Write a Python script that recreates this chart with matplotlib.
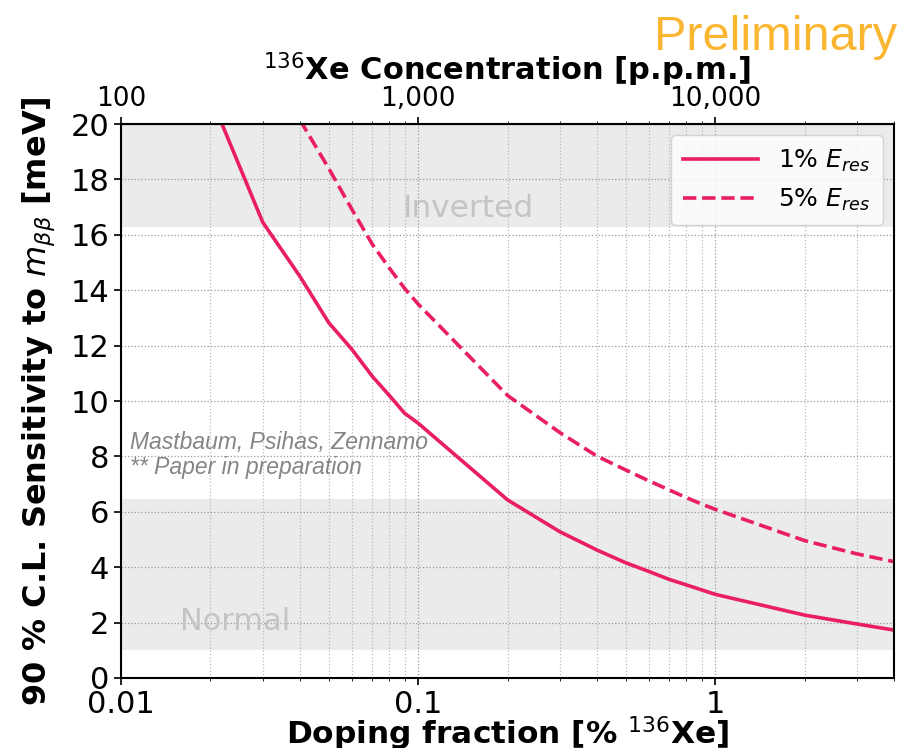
import numpy as np
import matplotlib
matplotlib.use("Agg")
import matplotlib.pyplot as plt
from matplotlib.ticker import FuncFormatter

# doping fraction in % of 136Xe
doping = [0.02, 0.03, 0.04, 0.05, 0.06, 0.07, 0.08, 0.09, 0.1,
          0.2, 0.3, 0.4, 0.5, 0.6, 0.7, 0.8, 0.9, 1, 2, 3, 4]
# 90% C.L. sensitivity to m_bb [meV]
sens_1pct = [21.0, 16.45, 14.5, 12.83, 11.85, 10.9, 10.2, 9.56, 9.2,
             6.43, 5.28, 4.62, 4.16, 3.84, 3.56, 3.36, 3.18, 3.02, 2.27, 1.95, 1.73]
doping_5 = [0.04, 0.05, 0.06, 0.07, 0.08, 0.09, 0.1,
            0.2, 0.3, 0.4, 0.5, 0.6, 0.7, 0.8, 0.9, 1, 2, 3, 4]
sens_5pct = [20.15, 18.4, 16.9, 15.67, 14.8, 14.07, 13.5,
             10.2, 8.86, 8.01, 7.51, 7.11, 6.79, 6.51, 6.28, 6.09, 4.96, 4.48, 4.2]
ppm_ticks = [100, 1000, 10000]

inverted_band = (16.3, 50)
normal_band = (1.0, 6.45)

pink = "#e91e63"

fig = plt.figure(figsize=(9.06, 7.48), dpi=100)
ax = fig.add_axes([0.1336, 0.0936, 0.8532, 0.7406])

ax.axhspan(*inverted_band, color="#ebebeb", zorder=0, lw=0)
ax.axhspan(*normal_band, color="#ebebeb", zorder=0, lw=0)

ax.plot(doping, sens_1pct, color=pink, lw=2.6, label=r"1% $E_{res}$")
ax.plot(doping_5, sens_5pct, color=pink, lw=2.6, ls="--", label=r"5% $E_{res}$")

ax.set_xscale("log")
ax.set_xlim(0.01, 4)
ax.set_ylim(0, 20)
ax.set_yticks(range(0, 21, 2))
ax.xaxis.set_major_formatter(FuncFormatter(lambda v, p: f"{v:g}"))
ax.grid(True, which="major", ls=":", color="#999999", lw=0.9)
ax.grid(True, which="minor", axis="x", ls=":", color="#bbbbbb", lw=0.9)
ax.set_axisbelow(True)
ax.tick_params(labelsize=22, width=1.2, length=5)
for s in ax.spines.values():
    s.set_linewidth(1.5)

ax.set_xlabel(r"Doping fraction [% $^{136}$Xe]", fontsize=22.5, fontweight="bold",
              labelpad=-3)
ax.set_ylabel(r"90 % C.L. Sensitivity to $m_{\beta\beta}$ [meV]", fontsize=23,
              fontweight="bold")
ax.yaxis.set_label_coords(-0.083, 0.5)

# second axis in parts per million
top = ax.secondary_xaxis("top", functions=(lambda x: x * 1e4, lambda x: x / 1e4))
top.set_xticks(ppm_ticks)
top.xaxis.set_major_formatter(FuncFormatter(lambda v, p: f"{v:,.0f}"))
top.tick_params(labelsize=19, width=1.2, length=5)
top.set_xlabel(r"$^{136}$Xe Concentration [p.p.m.]", fontsize=22, fontweight="bold",
               labelpad=4)

ax.text(0.089, 16.65, "Inverted", fontsize=22.5, color="#c4c4c4")
ax.text(0.0158, 1.73, "Normal", fontsize=22, color="#c4c4c4")
ax.text(0.0107, 8.25, "Mastbaum, Psihas, Zennamo", fontsize=16.5, style="italic",
        color="#858585", family="Liberation Sans")
ax.text(0.0107, 7.35, "** Paper in preparation", fontsize=16.5, style="italic",
        color="#858585", family="Liberation Sans")

ax.legend(loc="upper right", fontsize=18, frameon=True, fancybox=True,
          borderpad=0.5, handlelength=3.0, borderaxespad=0.45)

fig.text(0.990, 0.933, "Preliminary", fontsize=35, color="#fbb631", ha="right",
         va="baseline", family="Liberation Sans")

fig.savefig("out.png", dpi=100)
